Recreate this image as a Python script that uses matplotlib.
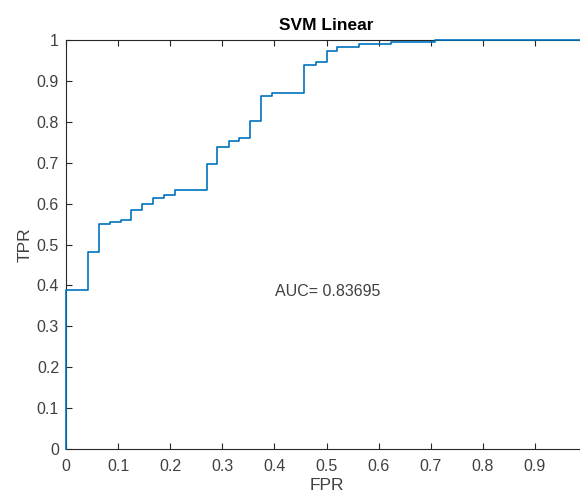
import matplotlib
matplotlib.use("Agg")
import matplotlib.pyplot as plt

plt.rcParams['font.family'] = ['Liberation Sans', 'DejaVu Sans']

fpr = [0, 0, 0.0416, 0.0633, 0.0845, 0.105, 0.1254, 0.1465, 0.1664, 0.188,
       0.2086, 0.270, 0.290, 0.312, 0.333, 0.354, 0.374, 0.395, 0.457, 0.480,
       0.500, 0.521, 0.562, 0.624, 0.708, 1.0]
tpr = [0, 0.389, 0.481, 0.551, 0.556, 0.561, 0.584, 0.600, 0.613, 0.621,
       0.634, 0.696, 0.738, 0.752, 0.760, 0.801, 0.864, 0.870, 0.940, 0.947,
       0.974, 0.982, 0.989, 0.996, 1.0, 1.0]
xticks = [0, 0.1, 0.2, 0.3, 0.4, 0.5, 0.6, 0.7, 0.8, 0.9]
xticklabels = ['0', '0.1', '0.2', '0.3', '0.4', '0.5', '0.6', '0.7', '0.8', '0.9']
yticks = [0, 0.1, 0.2, 0.3, 0.4, 0.5, 0.6, 0.7, 0.8, 0.9, 1]
yticklabels = ['0', '0.1', '0.2', '0.3', '0.4', '0.5', '0.6', '0.7', '0.8', '0.9', '1']
auc_text = 'AUC= 0.83695'

fig = plt.figure(figsize=(5.8, 4.97), dpi=100)
ax = fig.add_axes([66/580, 48/497, 521/580, 409/497])
ax.step(fpr, tpr, where='post', color=(0, 0.447, 0.741), lw=1.2,
        zorder=3, clip_on=False)
ax.set_xlim(0, 1)
ax.set_ylim(0, 1)
ax.set_xticks(xticks)
ax.set_xticklabels(xticklabels)
ax.set_yticks(yticks)
ax.set_yticklabels(yticklabels)
gray = (0.15, 0.15, 0.15)
lab = (0.25, 0.25, 0.25)
ax.tick_params(direction='in', length=4, width=0.8, color=gray,
               labelcolor=lab, labelsize=11.5, top=True, right=True)
ax.tick_params(axis='x', pad=7)
ax.tick_params(axis='y', pad=5)
ax.spines['right'].set_visible(False)
for s in ax.spines.values():
    s.set_color(gray)
    s.set_linewidth(0.8)
ax.set_xlabel('FPR', fontsize=12.5, color=lab, labelpad=3)
ax.set_ylabel('TPR', fontsize=12.5, color=lab, labelpad=3)
ax.set_title('SVM Linear', fontsize=12.5, fontweight='bold', color='black', pad=7)
ax.text(0.401, 0.385, auc_text, fontsize=11.5, color=lab, va='center', ha='left')

fig.savefig('out.png', dpi=100)
